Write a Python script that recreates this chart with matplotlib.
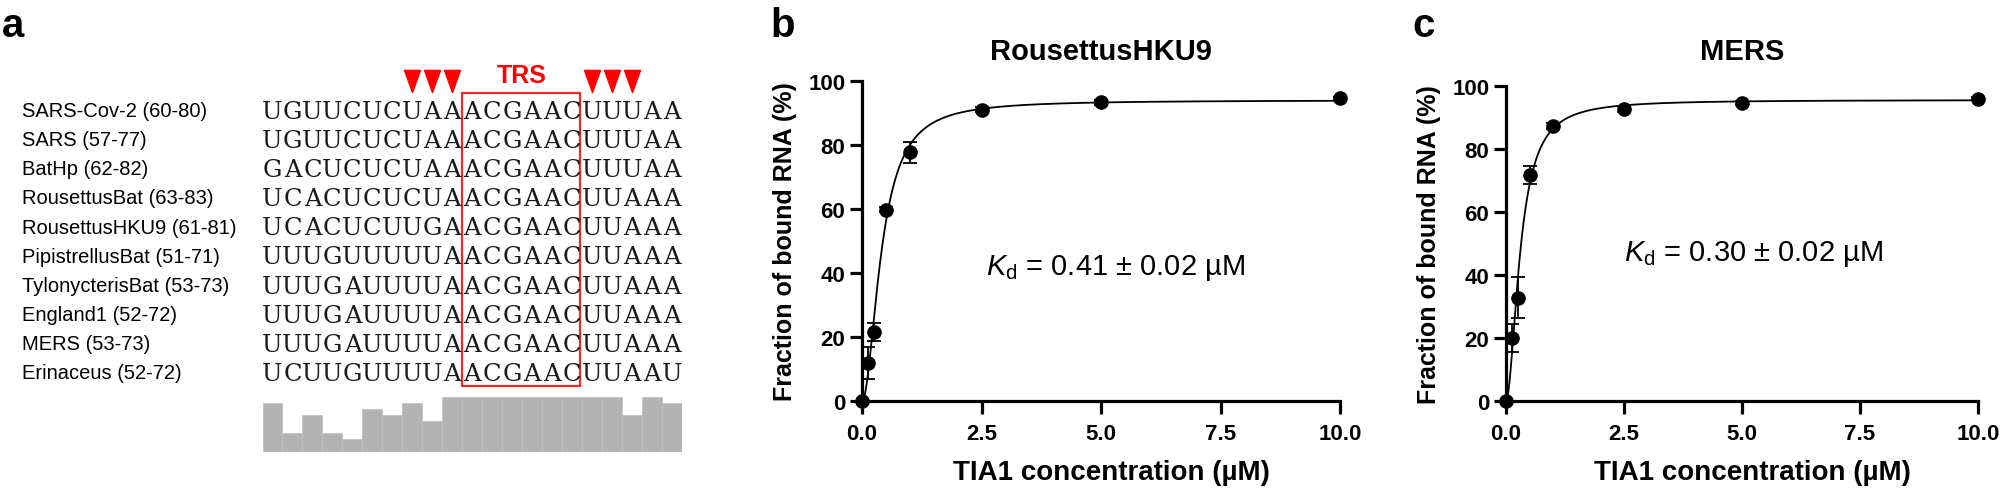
import numpy as np
import matplotlib
matplotlib.use('Agg')
import matplotlib.pyplot as plt
import matplotlib.transforms as mtransforms
from matplotlib.patches import Rectangle
from matplotlib.path import Path
from matplotlib.ticker import FormatStrFormatter

plt.rcParams['font.family'] = ['Liberation Sans', 'DejaVu Sans']
plt.rcParams['mathtext.fontset'] = 'custom'
plt.rcParams['mathtext.rm'] = 'Liberation Sans'
plt.rcParams['mathtext.it'] = 'Liberation Sans:italic'

# ---- panel a: TRS alignment ----
names = ['SARS-Cov-2 (60-80)', 'SARS (57-77)', 'BatHp (62-82)', 'RousettusBat (63-83)',
         'RousettusHKU9 (61-81)', 'PipistrellusBat (51-71)', 'TylonycterisBat (53-73)',
         'England1 (52-72)', 'MERS (53-73)', 'Erinaceus (52-72)']
seqs = ['UGUUCUCUAAACGAACUUUAA',
        'UGUUCUCUAAACGAACUUUAA',
        'GACUCUCUAAACGAACUUUAA',
        'UCACUCUCUAACGAACUUAAA',
        'UCACUCUUGAACGAACUUAAA',
        'UUUGUUUUUAACGAACUUAAA',
        'UUUGAUUUUAACGAACUUAAA',
        'UUUGAUUUUAACGAACUUAAA',
        'UUUGAUUUUAACGAACUUAAA',
        'UCUUGUUUUAACGAACUUAAU']
conservation = [8, 3, 6, 3, 2, 7, 6, 8, 5, 9, 9, 9, 9, 9, 9, 9, 9, 9, 6, 9, 8]
cons_max = 9
marked_cols = [7, 8, 9, 16, 17, 18]
trs_cols = (10, 15.9)

# ---- panels b, c: binding curves ----
conc = [0, 0.125, 0.25, 0.5, 1, 2.5, 5, 10]
hku9_mean = [0, 12, 21.7, 59.8, 77.7, 91, 93.3, 94.6]
hku9_sd = [0, 5, 2.8, 0.8, 3.3, 0.8, 0.7, 0.5]
mers_mean = [0, 20, 32.8, 71.7, 87.3, 92.7, 94.6, 95.9]
mers_sd = [0, 4.3, 6.5, 2.9, 0.8, 0.8, 0.7, 0.5]

W, H = 2000, 489
fig = plt.figure(figsize=(W / 100, H / 100), dpi=100)

# panel letters
for x_px, letter in [(2, 'a'), (770, 'b'), (1412, 'c')]:
    fig.text(x_px / W, 1 - 37 / H, letter, fontsize=29, fontweight='bold', va='baseline')

# alignment axes: x in columns, y in rows
row0_px, row_step = 110, 29.1
ax_seq = fig.add_axes([262.5 / W, (H - 400) / H, 419.5 / W, 340 / H])
ax_seq.set_xlim(0, 21)
ax_seq.set_ylim((400 - row0_px) / row_step, (60 - row0_px) / row_step)
ax_seq.axis('off')

def px_row(py):
    return (py - row0_px) / row_step

for i, s in enumerate(seqs):
    for j, ch in enumerate(s):
        ax_seq.text(j + 0.5, i + 9 / row_step, ch, ha='center', va='baseline',
                    family='DejaVu Serif', fontsize=17.5, color='#1a1a1a')

name_tr = mtransforms.blended_transform_factory(fig.transFigure, ax_seq.transData)
for i, n in enumerate(names):
    ax_seq.text(22 / W, i + 7.2 / row_step, n, transform=name_tr, ha='left',
                va='baseline', fontsize=14.5, color='black')

ax_seq.add_patch(Rectangle((trs_cols[0], px_row(94)), trs_cols[1] - trs_cols[0],
                           px_row(387) - px_row(94), fill=False,
                           edgecolor='#ee2a2a', lw=1.6, clip_on=False))
tri = Path([(-0.36, 0.5), (0.36, 0.5), (0, -0.5), (-0.36, 0.5)],
           [Path.MOVETO, Path.LINETO, Path.LINETO, Path.CLOSEPOLY])
ax_seq.plot(np.array(marked_cols) + 0.5, [px_row(82)] * len(marked_cols),
            linestyle='none', marker=tri, ms=16, color='#ff0000', clip_on=False)
ax_seq.text(sum(trs_cols) / 2, px_row(83), 'TRS', ha='center', va='baseline',
            color='#ff0000', fontsize=18, fontweight='bold')

ax_cons = fig.add_axes([262.5 / W, (H - 452.7) / H, 419.5 / W, 55 / H])
ax_cons.bar(np.arange(len(conservation)) + 0.5, conservation, width=1.0,
            color='#b3b3b3', edgecolor='#c2c2c2', linewidth=0.6)
ax_cons.set_xlim(0, 21)
ax_cons.set_ylim(0, cons_max)
ax_cons.axis('off')


def hill_fit(x, y):
    x = np.asarray(x, float)
    y = np.asarray(y, float)
    best = None
    for K in np.linspace(0.1, 1.0, 181):
        for h in np.linspace(0.8, 3.5, 109):
            f = x ** h / (K ** h + x ** h)
            B = (f * y).sum() / (f * f).sum()
            sse = ((B * f - y) ** 2).sum()
            if best is None or sse < best[0]:
                best = (sse, B, K, h)
    return best[1:]


def binding_panel(rect, mean, sd, title, kd_label, kd_xy):
    ax = fig.add_axes(rect)
    B, K, h = hill_fit(conc, mean)
    xf = np.concatenate([np.linspace(0, 1, 300), np.linspace(1, 10, 300)])
    yf = B * xf ** h / (K ** h + xf ** h)
    ax.plot(xf, yf, color='black', lw=1.3, clip_on=False)
    ax.errorbar(conc, mean, yerr=sd, fmt='none', ecolor='black', elinewidth=1.3,
                capsize=5, capthick=1.3, clip_on=False)
    ax.plot(conc, mean, 'o', color='black', ms=9.5, clip_on=False, zorder=4)
    ax.set_xlim(0, 10)
    ax.set_ylim(0, 100)
    ax.set_xticks([0, 2.5, 5, 7.5, 10])
    ax.set_yticks([0, 20, 40, 60, 80, 100])
    ax.xaxis.set_major_formatter(FormatStrFormatter('%.1f'))
    for sp in ['top', 'right']:
        ax.spines[sp].set_visible(False)
    for sp in ['left', 'bottom']:
        ax.spines[sp].set_linewidth(2.3)
    ax.tick_params(direction='out', length=9, width=2.3, labelsize=16)
    ax.tick_params(axis='x', pad=7)
    ax.tick_params(axis='y', pad=3)
    for lbl in ax.get_xticklabels() + ax.get_yticklabels():
        lbl.set_fontweight('bold')
    l, b, w, hh = rect
    fig.text(l + w / 2, 1 - 52 / H, title, ha='center', va='center',
             fontsize=21, fontweight='bold')
    fig.text(l + w / 2 + 10 / W, 1 - 473 / H, 'TIA1 concentration (µM)', ha='center',
             va='center', fontsize=20, fontweight='bold')
    fig.text(l - 77 / W, b + hh / 2, 'Fraction of bound RNA (%)', ha='center',
             va='center', rotation=90, fontsize=18, fontweight='bold')
    ax.text(kd_xy[0], kd_xy[1], kd_label, ha='left', va='center', fontsize=21)
    return ax


binding_panel([862 / W, (H - 402) / H, 478 / W, 320 / H], hku9_mean, hku9_sd,
              'RousettusHKU9', r'$K_{\mathrm{d}}$ = 0.41 ± 0.02 µM', (2.59, 42))
binding_panel([1506 / W, (H - 402) / H, 472 / W, 315 / H], mers_mean, mers_sd,
              'MERS', r'$K_{\mathrm{d}}$ = 0.30 ± 0.02 µM', (2.5, 47))

fig.savefig('out.png', dpi=100)
